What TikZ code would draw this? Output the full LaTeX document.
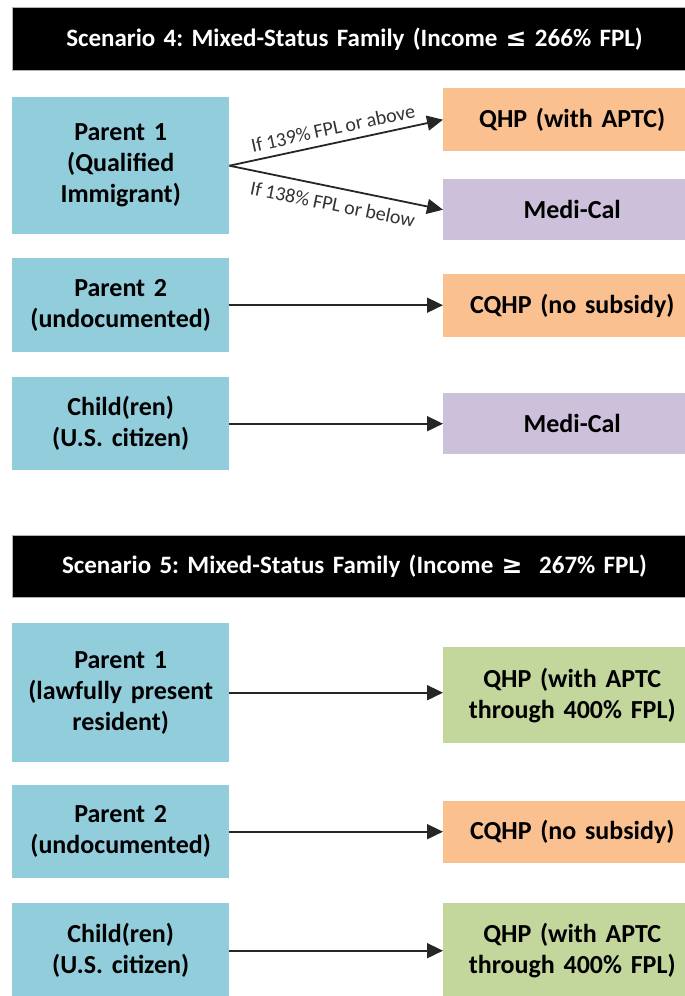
\documentclass[tikz,border=0pt]{standalone}
\usepackage{fontspec}
\setmainfont{Carlito}[WordSpace=0.9]
\newfontfamily\symfont{DejaVu Sans}
\usepackage{xcolor}
\usetikzlibrary{positioning,arrows.meta}
\frenchspacing

\definecolor{whoblue}{HTML}{92CDDC}
\definecolor{qhporange}{HTML}{FAC090}
\definecolor{medipurple}{HTML}{CCC0DA}
\definecolor{qhpgreen}{HTML}{C3D69B}

\tikzset{
  hdr/.style={fill=black, draw=gray!60, line width=1pt, text=white, anchor=north west,
    inner sep=0pt, text width=684pt, align=center, minimum height=63pt,
    font=\bfseries\fontsize{25}{30}\selectfont},
  who/.style={fill=whoblue, anchor=north west, inner sep=0pt, text width=217pt,
    align=center, font=\bfseries\fontsize{26}{31}\selectfont},
  plan/.style={anchor=north west, inner sep=0pt, text width=258pt,
    align=center, font=\bfseries\fontsize{26}{31}\selectfont},
  arr/.style={-{Triangle[length=16pt,width=15pt]}, line width=1.8pt, draw=black!85},
  cond/.style={font=\fontsize{20}{24}\selectfont, text=black!80, sloped, inner sep=7pt}
}

\begin{document}
\begin{tikzpicture}[x=1pt,y=-1pt]
  \useasboundingbox (0,0) rectangle (685,996);

  % Scenario 4
  \node[hdr] (hd4) at (12,7) {Scenario 4: Mixed-Status Family (Income {\symfont ≤} 266\% FPL)};

  \node[who, minimum height=137pt] (par1) at (12,97) {Parent 1\\(Qualified\\Immigrant)};
  \node[plan, fill=qhporange, minimum height=63pt] (qhp1) at (443,88) {QHP (with APTC)};
  \node[plan, fill=medipurple, minimum height=61pt] (medi1) at (443,179) {Medi-Cal};

  \node[who, minimum height=94pt] (par2) at (12,258) {Parent 2\\(undocumented)};
  \node[plan, fill=qhporange, minimum height=63pt] (cqhp1) at (443,274) {CQHP (no subsidy)};

  \node[who, minimum height=93pt] (kid) at (12,377) {Child(ren)\\(U.S. citizen)};
  \node[plan, fill=medipurple, minimum height=61pt] (medi2) at (443,393) {Medi-Cal};

  % arrows, scenario 4
  \draw[arr] (par1.east) -- node[cond, above, pos=0.5] {If 139\% FPL or above} (qhp1.west);
  \draw[arr] (par1.east) -- node[cond, below, pos=0.5, inner sep=9pt] {If 138\% FPL or below} (medi1.west);
  \draw[arr] (par2.east) -- (par2.east -| cqhp1.west);
  \draw[arr] (kid.east) -- (kid.east -| medi2.west);

  % Scenario 5
  \node[hdr, minimum height=62pt] (hd5) at (12,535) {Scenario 5: Mixed-Status Family (Income {\symfont ≥}~~267\% FPL)};

  \node[who, minimum height=139pt] (par1b) at (12,623) {Parent 1\\(lawfully present\\resident)};
  \node[plan, fill=qhpgreen, minimum height=96pt] (qhp2) at (443,647) {QHP (with APTC\\through 400\% FPL)};

  \node[who, minimum height=93pt] (par2b) at (12,785) {Parent 2\\(undocumented)};
  \node[plan, fill=qhporange, minimum height=62pt] (cqhp2) at (443,801) {CQHP (no subsidy)};

  \node[who, minimum height=95pt] (kidb) at (12,903) {Child(ren)\\(U.S. citizen)};
  \node[plan, fill=qhpgreen, minimum height=95pt] (qhp3) at (443,903) {QHP (with APTC\\through 400\% FPL)};

  % arrows, scenario 5
  \draw[arr] (par1b.east) -- (par1b.east -| qhp2.west);
  \draw[arr] (par2b.east) -- (par2b.east -| cqhp2.west);
  \draw[arr] (kidb.east) -- (kidb.east -| qhp3.west);
\end{tikzpicture}
\end{document}
